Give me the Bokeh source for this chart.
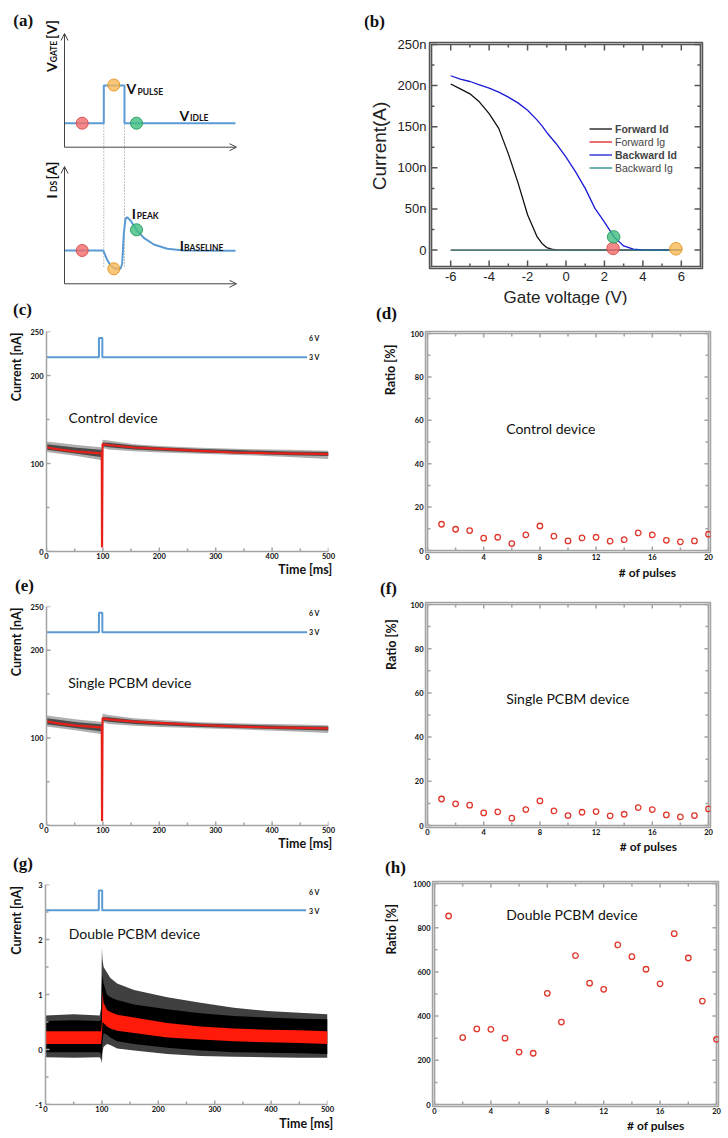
import numpy as np
from bokeh.plotting import figure
from bokeh.models import (Range1d, FixedTicker, Label, Arrow, OpenHead, Legend, LegendItem)
from bokeh.layouts import row, column
from bokeh.embed import file_html
from bokeh.resources import INLINE

SERIF = "Liberation Serif"
ARIAL = "Liberation Sans"
GILL = "Lato"

# ====================== DATA ======================
# (a) schematic waveforms (schematic units = panel pixels)
gate_x = [64, 103.3, 103.3, 124, 124, 235]
gate_y = [122.7, 122.7, 85, 85, 122.7, 122.7]
ids_x = [64, 102.7, 106.7, 110, 115, 120, 121.7, 123.3, 125, 126.7, 130, 136, 143.3, 153.3, 166.7, 183.3, 235]
ids_y = [250, 250, 259.3, 265, 268.3, 268.3, 263.3, 233.3, 218.3, 216.7, 220, 229.3, 237.3, 244, 248.3, 250, 250.3]
a_mark_x = [81.7, 113.3, 136, 81.7, 113.3, 136]
a_mark_y = [122.7, 84.5, 122.7, 250, 268.3, 229.3]
edge_x = [103.3, 124]
edge_top = 85
edge_bottom = 268

# (b) transfer curves (current in nA)
vg = [-6, -5.5, -5, -4.5, -4, -3.5, -3, -2.5, -2, -1.5, -1.25, -1, -0.75, -0.5,
      0, 0.5, 1, 1.5, 2, 2.5, 3, 3.5, 4, 5, 6]
fwd_id = [202, 196, 190, 180, 166, 148, 117, 82, 43, 16, 8, 3, 1, 0.3,
          0, 0, 0, 0, 0, 0, 0, 0, 0, 0, 0]
bwd_id = [212, 208, 205, 201, 197, 192, 186, 179, 170, 158, 151, 143, 136, 129,
          113, 95, 75, 51, 34, 16, 5, 1, 0.2, 0, 0]
ig_vg = [-6, 6]
fwd_ig = [0, 0]
bwd_ig = [0, 0]
b_mark_x = [2.45, 2.48, 5.72]
b_mark_y = [2, 16, 1.5]
b_xlim = (-7.0, 7.0)
b_ylim = (-20.0, 250.0)
b_xticks = [-6, -4, -2, 0, 2, 4, 6]
b_xminor = [-5, -3, -1, 1, 3, 5]
b_yticks = [0, 50, 100, 150, 200, 250]
b_yminor = [25, 75, 125, 175, 225]

# (c) control device current traces [nA]
c_band_t = [0, 54, 96, 98, 99.5, 110, 155, 202, 273, 350, 430, 500]
c_hair_hi = [125, 121, 118.5, 118, 127, 126, 122, 120, 118, 116.5, 115.5, 114.5]
c_hair_lo = [113, 108.5, 104, 104, 118, 116, 114, 112.5, 111, 109.5, 107.5, 105]
c_blk_hi = [122, 118, 115.5, 115, 124, 123.5, 120.5, 118.5, 116.5, 115, 113.5, 113]
c_blk_lo = [115.5, 111, 107.5, 107, 119.5, 118.5, 116, 114.5, 112.5, 111, 109.5, 108.5]
c_red_t = [0, 20, 54, 96, 98, 98.5, 98.9, 99.4, 110, 155, 214, 273, 332, 391, 450, 500]
c_red_y = [118.5, 116, 113.5, 111.5, 111, 4.5, 60, 122, 121, 118.2, 116.4, 114.4, 112.5, 111.8, 111.2, 110.7]

# (e) single PCBM device current traces [nA]
e_band_t = [0, 54, 96, 98, 99.5, 110, 155, 202, 273, 350, 430, 500]
e_hair_hi = [125.5, 121, 118.5, 118, 127.5, 126, 122.5, 120.5, 118, 116.5, 115.5, 114.5]
e_hair_lo = [113, 108.5, 104.5, 104, 118, 116, 114, 112.5, 111, 109.5, 107.5, 105.5]
e_blk_hi = [122.5, 118, 115.5, 115, 124, 123.5, 120.5, 118.5, 116.5, 115, 113.5, 113]
e_blk_lo = [115.5, 111, 107.5, 107, 119.5, 118.5, 116, 114.5, 112.5, 111, 109.5, 108.5]
e_red_t = [0, 20, 54, 96, 98, 98.5, 98.9, 99.4, 110, 155, 214, 273, 332, 391, 450, 500]
e_red_y = [119, 116.5, 114, 112, 111.5, 5, 60, 122.3, 121.2, 118.5, 116.6, 114.7, 113.2, 112, 111.4, 110.9]

# (g) double PCBM device current traces [nA]
g_t = [0, 50, 96, 98.5, 100, 101, 103, 109, 115, 127, 157, 216, 275, 334, 393, 450, 500]
g_hair_hi = [0.62, 0.64, 0.62, 0.75, 1.85, 1.65, 1.5, 1.4, 1.3, 1.2, 1.08, 0.95, 0.85, 0.76, 0.7, 0.67, 0.64]
g_hair_lo = [-0.14, -0.15, -0.14, -0.18, -0.25, -0.05, 0.05, 0.1, 0.08, 0.02, -0.02, -0.08, -0.12, -0.13, -0.14, -0.15, -0.15]
g_blk_hi = [0.52, 0.53, 0.52, 0.55, 1.2, 1.35, 1.2, 1.0, 0.95, 0.9, 0.82, 0.73, 0.66, 0.61, 0.58, 0.56, 0.55]
g_blk_lo = [-0.05, -0.05, -0.05, -0.08, -0.15, 0.15, 0.3, 0.27, 0.22, 0.15, 0.1, 0.03, -0.02, -0.05, -0.06, -0.07, -0.08]
g_red_hi = [0.33, 0.33, 0.33, 0.33, 0.5, 1.05, 0.85, 0.72, 0.68, 0.63, 0.58, 0.48, 0.42, 0.38, 0.36, 0.35, 0.33]
g_red_lo = [0.10, 0.10, 0.10, 0.10, 0.25, 0.5, 0.48, 0.42, 0.38, 0.34, 0.3, 0.22, 0.18, 0.15, 0.13, 0.12, 0.10]

# gate pulse traces drawn at the top of (c), (e), (g)
c_pulse_t = [0, 93, 93, 99, 99, 462]
c_pulse_y = [220.7, 220.7, 242.7, 242.7, 220.7, 220.7]
e_pulse_t = [0, 93, 93, 99, 99, 462]
e_pulse_y = [220.7, 220.7, 242.8, 242.8, 220.7, 220.7]
g_pulse_t = [0, 94.5, 94.5, 100.5, 100.5, 462]
g_pulse_y = [2.53, 2.53, 2.89, 2.89, 2.53, 2.53]
time_ticks = [0, 100, 200, 300, 400, 500]
time_minor = [50, 150, 250, 350, 450]

# (d), (f), (h) ratio per pulse
pulses = [1, 2, 3, 4, 5, 6, 7, 8, 9, 10, 11, 12, 13, 14, 15, 16, 17, 18, 19, 20]
ratio_control = [12.1, 9.8, 9.2, 5.7, 6.1, 3.2, 7.2, 11.3, 6.6, 4.4, 5.8, 6.1, 4.3, 5.0, 8.1, 7.2, 4.7, 4.0, 4.4, 7.5]
ratio_single = [12.0, 9.8, 9.2, 5.7, 6.2, 3.3, 7.2, 11.1, 6.6, 4.5, 6.0, 6.3, 4.4, 5.1, 8.1, 7.2, 4.8, 3.9, 4.5, 7.5]
ratio_double = [853, 303, 342, 340, 300, 237, 232, 503, 373, 674, 549, 521, 722, 669, 612, 546, 773, 663, 468, 295]
pulse_ticks = [0, 4, 8, 12, 16, 20]
pulse_minor = [2, 6, 10, 14, 18]

RED_F, RED_L = "#f26b6b", "#d9534f"
ORA_F, ORA_L = "#f7b955", "#e69a28"
GRN_F, GRN_L = "#3fbf7f", "#2e9e63"
PULSE_BLUE = "#5b9bd5"
TRACE_RED = "#e8201a"
DOT_RED = "#e0372c"
AXIS_GRAY = "#a3a3a3"


# ====================== HELPERS ======================
def make_panel(ox, oy, W, H, bl, br, bt, bb, xr, yr, axes=True):
    kw = dict(width=W, height=H, x_range=Range1d(*xr), y_range=Range1d(*yr),
              min_border_left=bl, min_border_right=br, min_border_top=bt,
              min_border_bottom=bb, output_backend="svg", toolbar_location=None, tools="")
    if not axes:
        kw.update(x_axis_type=None, y_axis_type=None)
    p = figure(**kw)
    p.grid.visible = False
    p.outline_line_color = None
    p.background_fill_color = "white"
    p.border_fill_color = "white"
    spec = dict(ox=ox, oy=oy, W=W, H=H, bl=bl, br=br, bt=bt, bb=bb, xr=xr, yr=yr)
    return p, spec


def padded_panel(ox, oy, W, H, bl, br, bt, bb, xlim, ylim, pad=2):
    """Frame a little larger than the box on every side, so the box sits inside it."""
    bl, br, bt, bb = bl - pad, br - pad, bt - pad, bb - pad
    fw, fh = W - bl - br, H - bt - bb
    sx = (xlim[1] - xlim[0]) / (fw - 2 * pad)
    sy = (ylim[1] - ylim[0]) / (fh - 2 * pad)
    xr = (xlim[0] - pad * sx, xlim[1] + pad * sx)
    yr = (ylim[0] - pad * sy, ylim[1] + pad * sy)
    return make_panel(ox, oy, W, H, bl, br, bt, bb, xr, yr)


def text_fig(ox, oy, W, H):
    return make_panel(ox, oy, W, H, 0, 0, 0, 0, (0, W), (H, 0), axes=False)


def frame_size(spec):
    return (spec["W"] - spec["bl"] - spec["br"], spec["H"] - spec["bt"] - spec["bb"])


def at(spec, X, Y):
    px, py = X - spec["ox"], Y - spec["oy"]
    fw, fh = frame_size(spec)
    x0, x1 = spec["xr"]
    y0, y1 = spec["yr"]
    return (x0 + (px - spec["bl"]) / fw * (x1 - x0),
            y1 - (py - spec["bt"]) / fh * (y1 - y0))


def txt(p, spec, X, Y, s, size, font, style="normal", angle=0.0, align="center",
        baseline="middle", color="#111111"):
    x, y = at(spec, X, Y)
    p.add_layout(Label(x=x, y=y, text=s, text_font=font, text_font_size=f"{size}px",
                       text_font_style=style, angle=angle, text_align=align,
                       text_baseline=baseline, text_color=color))


def style_axis(ax, ticks, color, lw, font, size, style, standoff, overrides=None,
               lcolor="#111111"):
    ax.ticker = FixedTicker(ticks=ticks)
    ax.axis_line_color = color
    ax.axis_line_width = lw
    ax.major_tick_line_color = None
    ax.minor_tick_line_color = None
    ax.major_tick_in = 0
    ax.major_tick_out = 0
    ax.minor_tick_in = 0
    ax.minor_tick_out = 0
    ax.major_label_text_font = font
    ax.major_label_text_font_size = f"{size}px"
    ax.major_label_text_font_style = style
    ax.major_label_text_color = lcolor
    ax.major_label_standoff = standoff
    if overrides:
        ax.major_label_overrides = overrides


def frame_marks(p, spec, xlim, ylim, xt, xm, yt, ym, color, wbox, wtick, maj, mnr,
                sides="bltr", box=True):
    """Box edges and inward tick marks, drawn as thin filled bars."""
    fw, fh = frame_size(spec)
    dx = (spec["xr"][1] - spec["xr"][0]) / fw
    dy = (spec["yr"][1] - spec["yr"][0]) / fh
    x0, x1 = xlim
    y0, y1 = ylim
    L, R, B, T = [], [], [], []
    bw, bh = wbox / 2 * dx, wbox / 2 * dy
    tw, th = wtick / 2 * dx, wtick / 2 * dy
    if box:
        L += [x0 - bw, x0 - bw, x0 - bw, x1 - bw]
        R += [x1 + bw, x1 + bw, x0 + bw, x1 + bw]
        B += [y0 - bh, y1 - bh, y0 - bh, y0 - bh]
        T += [y0 + bh, y1 + bh, y1 + bh, y1 + bh]
    for vals, n in ((xt, maj), (xm, mnr)):
        for v in vals:
            if "b" in sides:
                L.append(v - tw); R.append(v + tw); B.append(y0); T.append(y0 + n * dy)
            if "t" in sides:
                L.append(v - tw); R.append(v + tw); B.append(y1 - n * dy); T.append(y1)
    for vals, n in ((yt, maj), (ym, mnr)):
        for v in vals:
            if "l" in sides:
                L.append(x0); R.append(x0 + n * dx); B.append(v - th); T.append(v + th)
            if "r" in sides:
                L.append(x1 - n * dx); R.append(x1); B.append(v - th); T.append(v + th)
    p.quad(left=L, right=R, bottom=B, top=T, fill_color=color, line_color=None)


# ====================== (a) ======================
pa, sa = make_panel(0, 0, 364, 295, 0, 0, 0, 0, (0, 364), (295, 0), axes=False)
for xs_, ys_, xe_, ye_ in ((64, 146.7, 64, 33), (64, 146.7, 236, 146.7),
                           (64, 283.3, 64, 166), (64, 283.3, 236, 283.3)):
    pa.add_layout(Arrow(end=OpenHead(size=7, line_color="#444444", line_width=1),
                        x_start=xs_, y_start=ys_, x_end=xe_, y_end=ye_,
                        line_color="#444444", line_width=1))
for ex in edge_x:
    pa.line([ex, ex], [edge_top, edge_bottom], line_color="#666666", line_width=0.8,
            line_dash="1 2")
pa.line(gate_x, gate_y, line_color=PULSE_BLUE, line_width=2)
pa.line(ids_x, ids_y, line_color=PULSE_BLUE, line_width=2)
pa.scatter(a_mark_x, a_mark_y, size=12,
           fill_color=[RED_F, ORA_F, GRN_F, RED_F, ORA_F, GRN_F],
           line_color=[RED_L, ORA_L, GRN_L, RED_L, ORA_L, GRN_L],
           fill_alpha=0.8, line_width=1)
txt(pa, sa, 22.7, 20, "(a)", 17, SERIF, "bold")
txt(pa, sa, 50.7, 66.7, "V", 14, GILL, "bold", angle=np.pi / 2)
txt(pa, sa, 53.6, 51, "GATE", 8.5, GILL, "bold", angle=np.pi / 2)
txt(pa, sa, 50.7, 29, "[V]", 14, GILL, "bold", angle=np.pi / 2)
txt(pa, sa, 50.7, 196, "I", 14, GILL, "bold", angle=np.pi / 2)
txt(pa, sa, 53.6, 186, "DS", 8.5, GILL, "bold", angle=np.pi / 2)
txt(pa, sa, 50.7, 170, "[A]", 14, GILL, "bold", angle=np.pi / 2)
txt(pa, sa, 130.8, 88.3, "V", 14, GILL, "bold")
txt(pa, sa, 137, 91, "PULSE", 8.5, GILL, "bold", align="left")
txt(pa, sa, 183.8, 115, "V", 14, GILL, "bold")
txt(pa, sa, 189.5, 117.5, "IDLE", 8.5, GILL, "bold", align="left")
txt(pa, sa, 133.3, 212.5, "I", 14, GILL, "bold")
txt(pa, sa, 136.3, 215.5, "PEAK", 8.5, GILL, "bold", align="left")
txt(pa, sa, 181.3, 245, "I", 14, GILL, "bold")
txt(pa, sa, 183.6, 247.5, "BASELINE", 8.5, GILL, "bold", align="left")

# ====================== (b) ======================
hb, shb = text_fig(364, 0, 364, 36)
txt(hb, shb, 374, 21, "(b)", 17, SERIF, "bold")
stb, sstb = text_fig(364, 36, 30, 249)
txt(stb, sstb, 379, 150, "Current(A)", 19, ARIAL, angle=np.pi / 2, color="#222222")
pb, sb = padded_panel(394, 36, 334, 249, 35, 28, 8, 19, b_xlim, b_ylim)
frame_marks(pb, sb, b_xlim, b_ylim, b_xticks, b_xminor, b_yticks, b_yminor,
            "#555555", 1.7, 1.5, 6, 3)
r_fd = pb.line(vg, fwd_id, line_color="#111111", line_width=1.3)
r_fg = pb.line(ig_vg, fwd_ig, line_color="#e02020", line_width=1.3)
r_bd = pb.line(vg, bwd_id, line_color="#1a1ad6", line_width=1.3)
r_bg = pb.line(ig_vg, bwd_ig, line_color="#168c8c", line_width=1.3)
pb.scatter(b_mark_x, b_mark_y, size=12.5, fill_color=[RED_F, GRN_F, ORA_F],
           line_color=[RED_L, GRN_L, ORA_L], fill_alpha=0.8, line_width=1)
style_axis(pb.below[0], b_xticks, None, 1, ARIAL, 13, "normal", 3,
           overrides={-6: "-6", -4: "-4", -2: "-2", 0: "0", 2: "2", 4: "4", 6: "6"},
           lcolor="#222222")
style_axis(pb.left[0], b_yticks, None, 1, ARIAL, 13, "normal", 3,
           overrides={0: "0", 50: "50n", 100: "100n", 150: "150n", 200: "200n", 250: "250n"},
           lcolor="#222222")
pb.outline_line_color = "#555555"
pb.outline_line_width = 1.5
leg_kw = dict(label_text_font=ARIAL, label_text_font_size="10.5px", glyph_width=23,
              glyph_height=13, label_height=13, label_standoff=3, spacing=13,
              padding=0, margin=0, border_line_color=None, background_fill_alpha=0)
leg_bold = Legend(items=[LegendItem(label="Forward Id", renderers=[r_fd]),
                         LegendItem(label="Backward Id", renderers=[r_bd])],
                  location=(160, 107), label_text_font_style="bold", **leg_kw)
leg_norm = Legend(items=[LegendItem(label="Forward Ig", renderers=[r_fg]),
                         LegendItem(label="Backward Ig", renderers=[r_bg])],
                  location=(160, 94), label_text_font_style="normal", **leg_kw)
pb.add_layout(leg_bold)
pb.add_layout(leg_norm)
fb, sfb = text_fig(364, 285, 364, 20)
txt(fb, sfb, 565, 296.5, "Gate voltage (V)", 17, ARIAL, color="#222222")
block_b = column(hb, row(stb, pb), fb)


# ====================== current panels ======================
def current_axes(p, s, ylim, yt, ym, yover=None):
    style_axis(p.below[0], time_ticks, AXIS_GRAY, 1.5, GILL, 7.5, "bold", 1)
    style_axis(p.left[0], yt, AXIS_GRAY, 1.5, GILL, 7.5, "bold", 3, yover)
    frame_marks(p, s, (0, 500), ylim, time_ticks, time_minor, yt, ym, AXIS_GRAY,
                1.5, 1.5, 4, 3, sides="bl", box=False)


# (c)
hc, shc = text_fig(0, 295, 364, 31)
txt(hc, shc, 22, 309, "(c)", 17, SERIF, "bold")
stc, sstc = text_fig(0, 326, 24, 236)
txt(stc, sstc, 16, 364, "Current [nA]", 12.5, GILL, "bold", angle=np.pi / 2)
pc, sc = make_panel(24, 326, 340, 236, 22, 36, 5, 11, (0, 500), (0, 250))
pc.varea(c_band_t, c_hair_lo, c_hair_hi, fill_color="#9a9a9a", fill_alpha=0.8)
pc.varea(c_band_t, c_blk_lo, c_blk_hi, fill_color="#3a3a3a", fill_alpha=0.85)
pc.line(c_red_t, c_red_y, line_color=TRACE_RED, line_width=2.2)
pc.line(c_pulse_t, c_pulse_y, line_color=PULSE_BLUE, line_width=2)
current_axes(pc, sc, (0, 250), [0, 100, 200, 250], [50, 150])
txt(pc, sc, 68, 416.7, "Control device", 14, GILL, align="left")
txt(pc, sc, 308.5, 337.3, "6 V", 7, GILL, "bold", align="left")
txt(pc, sc, 308.5, 356.7, "3 V", 7, GILL, "bold", align="left")
fc, sfc = text_fig(0, 562, 364, 14)
txt(fc, sfc, 331.7, 569, "Time [ms]", 12.5, GILL, "bold", align="right")
block_c = column(hc, row(stc, pc), fc)

# (e)
he, she = text_fig(0, 576, 364, 25)
txt(he, she, 24, 585, "(e)", 17, SERIF, "bold")
ste, sste = text_fig(0, 601, 24, 235)
txt(ste, sste, 16, 639, "Current [nA]", 12.5, GILL, "bold", angle=np.pi / 2)
pe, se = make_panel(24, 601, 340, 235, 22, 36, 5, 11, (0, 500), (0, 250))
pe.varea(e_band_t, e_hair_lo, e_hair_hi, fill_color="#9a9a9a", fill_alpha=0.8)
pe.varea(e_band_t, e_blk_lo, e_blk_hi, fill_color="#3a3a3a", fill_alpha=0.85)
pe.line(e_red_t, e_red_y, line_color=TRACE_RED, line_width=2.2)
pe.line(e_pulse_t, e_pulse_y, line_color=PULSE_BLUE, line_width=2)
current_axes(pe, se, (0, 250), [0, 100, 200, 250], [50, 150])
txt(pe, se, 67.7, 682.3, "Single PCBM device", 14, GILL, align="left")
txt(pe, se, 308.5, 612.3, "6 V", 7, GILL, "bold", align="left")
txt(pe, se, 308.5, 631.7, "3 V", 7, GILL, "bold", align="left")
fe, sfe = text_fig(0, 836, 364, 14)
txt(fe, sfe, 331.7, 843, "Time [ms]", 12.5, GILL, "bold", align="right")
block_e = column(he, row(ste, pe), fe)

# (g)
hg, shg = text_fig(0, 850, 364, 29)
txt(hg, shg, 22.5, 863, "(g)", 17, SERIF, "bold")
stg, sstg = text_fig(0, 879, 24, 236)
txt(stg, sstg, 16, 917.5, "Current [nA]", 12.5, GILL, "bold", angle=np.pi / 2)
pg, sg = make_panel(24, 879, 340, 236, 21, 37, 5, 11, (0, 500), (-1, 3))
pg.varea(g_t, g_hair_lo, g_hair_hi, fill_color="#000000", fill_alpha=0.75)
pg.varea(g_t, g_blk_lo, g_blk_hi, fill_color="#000000", fill_alpha=1.0)
pg.varea(g_t, g_red_lo, g_red_hi, fill_color="#ff1a0a", fill_alpha=1.0)
pg.line(g_pulse_t, g_pulse_y, line_color=PULSE_BLUE, line_width=2)
current_axes(pg, sg, (-1, 3), [-1, 0, 1, 2, 3], [-0.5, 0.5, 1.5, 2.5], yover={-1: "-1"})
txt(pg, sg, 68.3, 933.3, "Double PCBM device", 14, GILL, align="left")
txt(pg, sg, 308.5, 891.7, "6 V", 7, GILL, "bold", align="left")
txt(pg, sg, 308.5, 910.7, "3 V", 7, GILL, "bold", align="left")
fg, sfg = text_fig(0, 1115, 364, 23)
txt(fg, sfg, 332.7, 1123, "Time [ms]", 12.5, GILL, "bold", align="right")
block_g = column(hg, row(stg, pg), fg)


# ====================== ratio panels ======================
def ratio_block(oy, head_h, main_h, foot_h, bl, br, ymax, ystep, values, letter, lxy,
                device, dxy, ylab_xy, xlab_xy):
    h, sh = text_fig(364, oy, 364, head_h)
    txt(h, sh, lxy[0], lxy[1], letter, 17, SERIF, "bold")
    my = oy + head_h
    st, sst = text_fig(364, my, 40, main_h)
    txt(st, sst, ylab_xy[0], ylab_xy[1], "Ratio [%]", 12.5, GILL, "bold", angle=np.pi / 2)
    xlim, ylim = (0.0, 20.0), (0.0, float(ymax))
    p, s = padded_panel(404, my, 324, main_h, bl, br, 5, 14, xlim, ylim)
    yt = [ystep * i for i in range(6)]
    ym = [ystep * i + ystep / 2 for i in range(5)]
    frame_marks(p, s, xlim, ylim, pulse_ticks, pulse_minor, yt, ym, AXIS_GRAY,
                1.7, 1.5, 4, 3)
    style_axis(p.below[0], pulse_ticks, None, 1.1, GILL, 7.5, "bold", 1)
    style_axis(p.left[0], yt, None, 1.1, GILL, 7.5, "bold", 2)
    p.outline_line_color = AXIS_GRAY
    p.outline_line_width = 1.5
    p.scatter(pulses, values, size=5.5, marker="circle", fill_color=None,
              line_color=DOT_RED, line_width=1.3)
    txt(p, s, dxy[0], dxy[1], device, 14, GILL, align="left")
    f, sf = text_fig(364, my + main_h, 364, foot_h)
    txt(f, sf, xlab_xy[0], xlab_xy[1], "# of pulses", 12, GILL, "bold")
    return column(h, row(st, p), f)


block_d = ratio_block(305, 23, 236, 15, 23, 20, 100, 20, ratio_control, "(d)", (386, 313),
                      "Control device", (505.7, 428.3), (390, 369), (647, 571.5))
block_f = ratio_block(579, 20, 240, 14, 23, 20, 100, 20, ratio_single, "(f)", (388, 588),
                      "Single PCBM device", (505.7, 697.7), (390.7, 644), (648, 845.5))
block_h = ratio_block(853, 25, 240, 20, 30, 12, 1000, 200, ratio_double, "(h)", (395, 867),
                      "Double PCBM device", (505.7, 914), (390.7, 929), (655.3, 1125))

layout = row(column(pa, block_c, block_e, block_g),
             column(block_b, block_d, block_f, block_h))
open("out.html", "w").write(file_html(layout, INLINE))
